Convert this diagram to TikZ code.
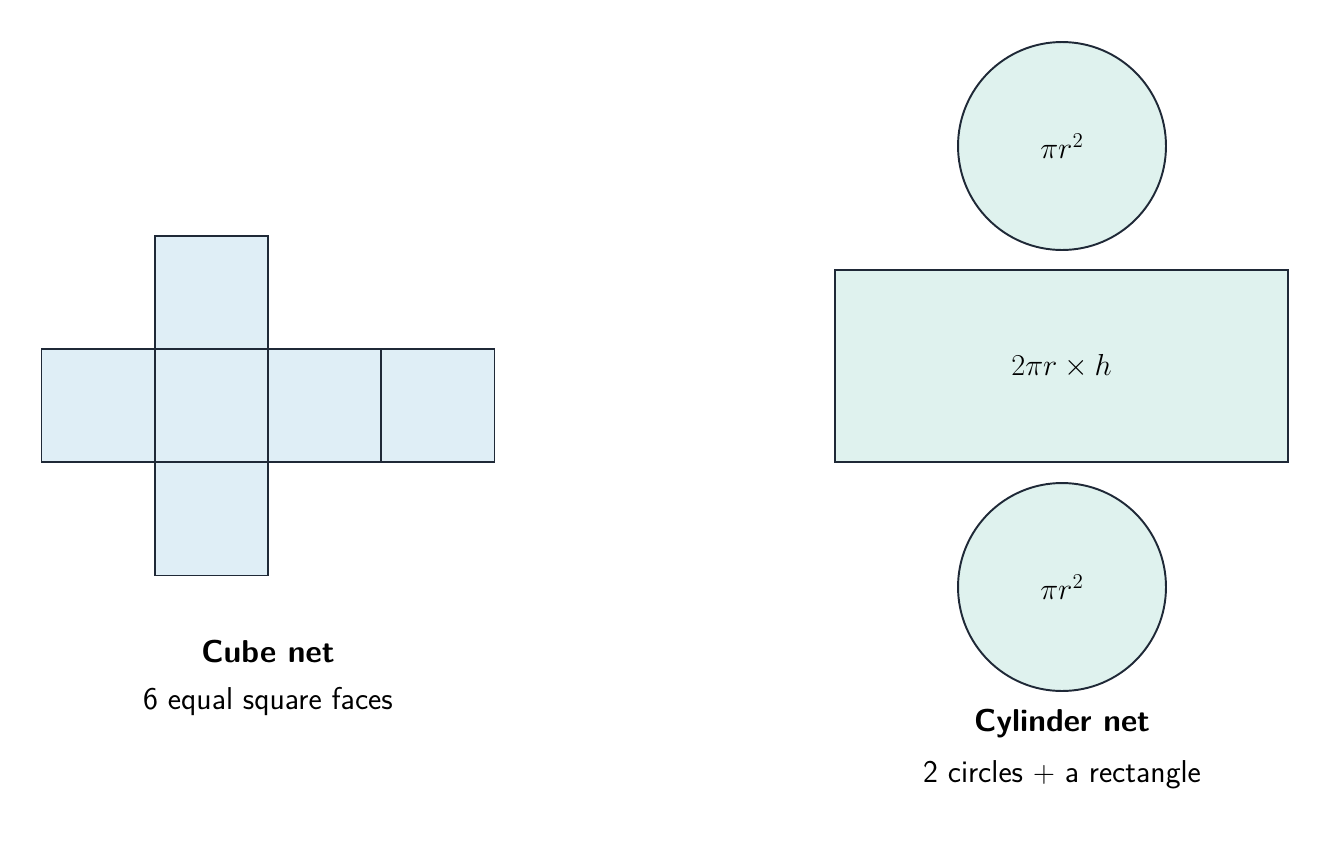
\documentclass[tikz,border=0pt]{standalone}
\usepackage{tikz}
\definecolor{edgec}{HTML}{1F2937}
\definecolor{cubefill}{HTML}{DFEEF6}
\definecolor{cylfill}{HTML}{DFF2EE}
\begin{document}
\begin{tikzpicture}[x=0.02cm, y=-0.02cm, line width=1.1pt,
  face/.style={draw=edgec, fill=cubefill, minimum size=2.26cm, inner sep=0pt},
  disc/.style={circle, draw=edgec, fill=cylfill, minimum size=4.16cm, inner sep=0pt, font=\fontsize{17}{20}\selectfont},
  title/.style={font=\sffamily\bfseries\fontsize{18}{22}\selectfont},
  note/.style={font=\sffamily\fontsize{18}{22}\selectfont}]
\useasboundingbox (0,0) rectangle (1331,849);
% cube net
\begin{scope}
\node[face] (top) at (211.5,292.5) {};
\node[face] (left) at (98,405.5) {};
\node[face] (front) at (211.5,405.5) {};
\node[face] (right) at (324.5,405.5) {};
\node[face] (back) at (438,405.5) {};
\node[face] (bottom) at (211.5,519) {};
\end{scope}
\node[title] (cubetitle) at (268,651) {Cube net};
\node[note] (cubenote) at (268,701) {6 equal square faces};
% cylinder net
\node[disc] (lid) at (1062,146) {$\pi r^2$};
\node[draw=edgec, fill=cylfill, minimum width=9.06cm, minimum height=3.84cm, inner sep=0pt, font=\fontsize{17}{20}\selectfont] (wall) at (1061.5,366) {$2\pi r\times h$};
\node[disc] (base) at (1062,587) {$\pi r^2$};
\node[title] (cyltitle) at (1062,724) {Cylinder net};
\node[note] (cylnote) at (1062,775) {2 circles $+$ a rectangle};
\end{tikzpicture}
\end{document}
